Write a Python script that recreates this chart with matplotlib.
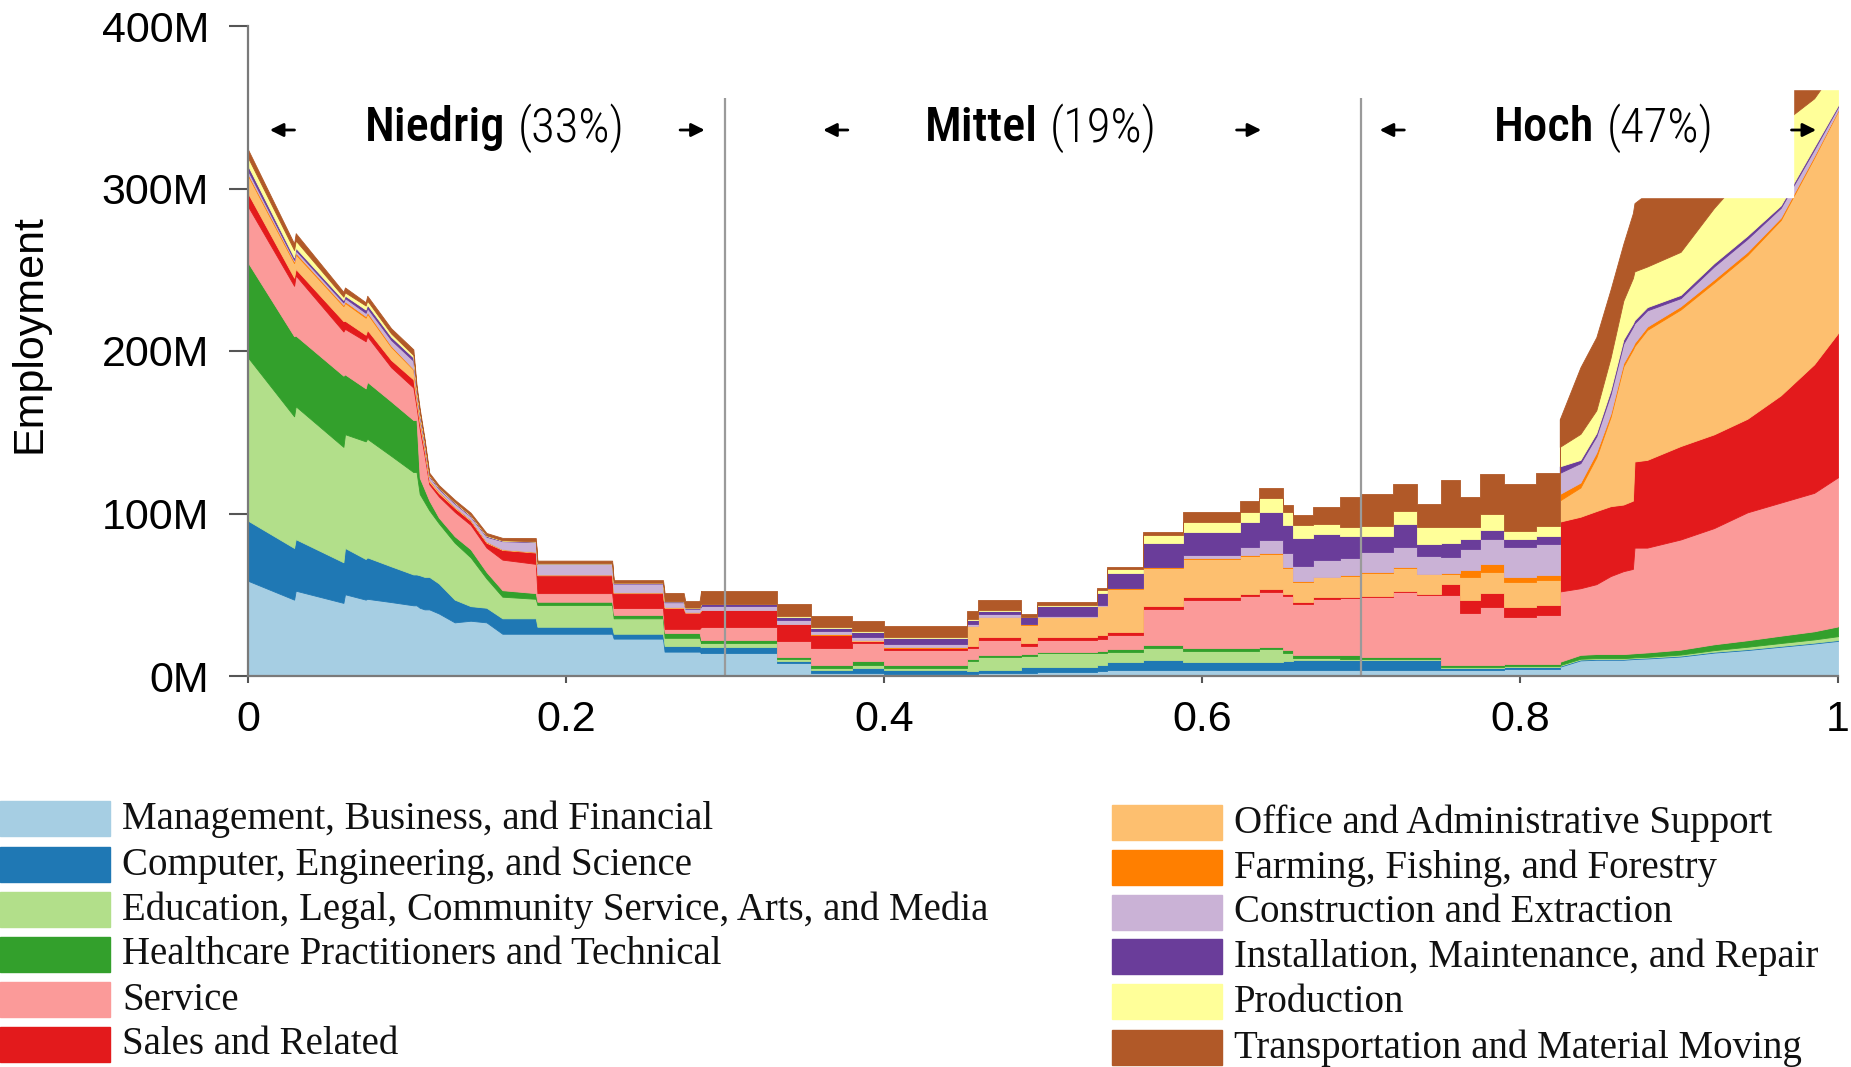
#Stacked employment by probability of computerisation, with low / medium / high bands
#plot.py

import os
import numpy as np
import matplotlib.pyplot as plt
from matplotlib.patches import Rectangle
from matplotlib import font_manager
from matplotlib.font_manager import FontProperties

# probability of computerisation (x axis)
prob = [0.000, 0.029, 0.030, 0.060, 0.061, 0.074, 0.075, 0.090, 0.104, 0.106,
        0.108, 0.111, 0.114, 0.120, 0.130, 0.140, 0.150, 0.160, 0.181, 0.182,
        0.229, 0.230, 0.261, 0.262, 0.274, 0.275, 0.284,
        0.285, 0.333, 0.354, 0.380, 0.400, 0.452, 0.459, 0.486, 0.496, 0.534,
        0.540, 0.563, 0.588, 0.624, 0.636, 0.651, 0.657, 0.670, 0.687, 0.700,
        0.720, 0.735, 0.750, 0.762, 0.775, 0.790, 0.810,
        0.825, 0.838, 0.848, 0.857, 0.865, 0.871, 0.872, 0.880, 0.901, 0.922,
        0.943, 0.964, 0.985, 1.000]

# employment in millions, one list per occupation group (bottom to top of the stack)
mgmt = [58.6, 47.0, 52.5, 45.0, 50.3, 47.0, 47.5, 45.5, 43.5, 43.5,
        42.0, 41.0, 41.0, 38.5, 33.0, 34.0, 33.0, 26.0, 26.0, 26.0,
        26.0, 23.0, 23.0, 15.0, 15.0, 15.0, 15.0,
        14.0, 7.8, 2.0, 2.0, 1.0, 1.3, 1.6, 1.6, 2.7, 3.0,
        3.7, 3.7, 3.7, 3.7, 3.7, 3.7, 3.7, 3.7, 3.7, 3.7,
        3.7, 3.7, 3.7, 3.7, 3.7, 4.5, 4.5,
        5.7, 9.6, 10.0, 10.0, 10.0, 10.4, 10.5, 10.8, 12.0, 14.4,
        16.0, 18.0, 20.0, 21.6]
comp = [37.0, 31.8, 31.7, 25.0, 28.5, 25.0, 25.5, 22.0, 19.0, 19.0,
        20.0, 20.0, 20.0, 18.5, 14.0, 9.0, 9.0, 9.5, 9.5, 4.3,
        4.3, 3.0, 3.0, 3.5, 3.5, 3.5, 3.5,
        3.7, 1.5, 2.0, 3.0, 2.5, 2.0, 2.0, 4.0, 3.0, 4.0,
        5.0, 6.1, 5.1, 5.1, 5.1, 5.5, 6.0, 6.0, 6.0, 6.0,
        6.0, 6.0, 1.5, 1.5, 1.5, 1.0, 1.0,
        0.5, 0.5, 0.5, 0.5, 0.5, 0.5, 0.5, 0.5, 0.5, 0.5,
        0.5, 0.5, 0.5, 0.5]
edu = [100.4, 81.0, 81.8, 71.0, 70.0, 72.4, 73.0, 68.0, 63.0, 63.0,
       50.0, 46.0, 41.0, 37.0, 35.0, 30.0, 18.0, 13.3, 12.0, 13.4,
       13.4, 9.5, 9.5, 5.0, 5.0, 5.0, 5.0,
       2.5, 1.0, 1.0, 1.5, 1.5, 6.0, 8.0, 7.0, 8.2, 7.0,
       6.2, 7.2, 6.8, 6.8, 7.6, 5.0, 1.5, 1.5, 1.0, 0.5,
       0.5, 0.5, 0.5, 0.5, 0.5, 0.5, 0.5,
       0.5, 0.5, 0.5, 0.5, 0.5, 0.5, 0.5, 0.5, 0.7, 1.0,
       1.5, 1.8, 2.0, 2.4]
health = [58.4, 49.3, 43.5, 43.8, 36.8, 32.6, 35.0, 33.5, 32.0, 32.0,
          10.0, 8.0, 6.0, 3.5, 4.0, 5.0, 4.0, 4.0, 3.5, 2.0,
          2.0, 2.1, 2.1, 3.0, 3.0, 3.0, 3.0,
          2.0, 1.6, 2.0, 2.5, 2.0, 1.2, 1.2, 1.0, 1.0, 1.5,
          2.0, 2.0, 1.4, 1.4, 1.6, 1.8, 2.0, 2.0, 2.0, 1.5,
          1.5, 1.5, 1.0, 1.0, 1.0, 1.5, 1.5,
          2.0, 2.4, 2.5, 2.5, 2.5, 2.5, 2.5, 2.7, 3.0, 3.6,
          4.0, 4.5, 5.0, 6.0]
service = [34.6, 31.0, 37.0, 27.2, 28.0, 29.0, 28.0, 21.0, 20.0, 8.0,
           30.0, 21.0, 10.0, 13.0, 15.0, 15.0, 15.0, 18.8, 18.0, 5.3,
           5.3, 4.2, 4.2, 2.5, 2.5, 2.5, 2.5,
           8.0, 9.5, 10.0, 11.5, 9.0, 7.0, 9.6, 5.0, 7.2, 7.5,
           8.2, 22.0, 29.7, 32.0, 33.8, 33.0, 31.0, 34.0, 35.0, 37.0,
           40.0, 38.0, 43.0, 31.8, 35.9, 28.7, 30.0,
           43.3, 41.0, 43.0, 48.0, 51.0, 52.0, 65.0, 64.5, 67.8, 71.5,
           78.7, 81.9, 85.2, 91.8]
sales = [8.0, 5.0, 4.0, 6.4, 5.0, 4.0, 4.0, 4.5, 5.0, 3.0,
         3.0, 2.5, 1.5, 2.0, 2.5, 2.5, 3.0, 6.0, 7.0, 11.0,
         11.0, 9.2, 9.2, 13.0, 13.0, 10.0, 10.0,
         10.3, 10.3, 8.2, 1.0, 1.0, 1.0, 1.6, 2.0, 2.0, 2.0,
         2.0, 2.0, 2.0, 1.5, 2.0, 1.7, 1.5, 1.5, 1.0, 0.5,
         0.5, 0.5, 7.2, 8.2, 8.2, 6.1, 6.1,
         43.0, 44.0, 45.0, 43.0, 41.0, 42.0, 53.0, 54.0, 57.5, 57.7,
         57.6, 66.0, 79.1, 88.7]
office = [11.0, 9.0, 9.0, 9.2, 11.0, 10.5, 10.0, 8.0, 6.0, 3.0,
          3.0, 2.0, 1.0, 1.0, 0.5, 0.5, 0.5, 0.3, 0.3, 0.3,
          0.3, 0.3, 0.3, 0.3, 0.3, 0.3, 0.3,
          0.3, 0.3, 0.3, 0.5, 0.5, 12.0, 12.3, 11.0, 12.3, 18.0,
          26.6, 23.6, 23.6, 23.6, 21.5, 16.0, 12.3, 12.3, 13.0, 14.3,
          14.3, 12.3, 6.1, 14.3, 13.3, 15.4, 15.4,
          13.0, 18.0, 33.0, 55.0, 85.0, 93.0, 71.0, 80.0, 84.0, 93.3,
          100.7, 107.9, 127.2, 136.7]
farm = [1.0, 1.0, 1.0, 0.8, 1.0, 1.0, 1.0, 0.8, 0.5, 0.5,
        0.5, 0.3, 0.3, 0.2, 0.2, 0.2, 0.2, 0.1, 0.1, 0.1,
        0.1, 0.1, 0.1, 0.1, 0.1, 0.1, 0.1,
        0.1, 0.1, 0.1, 0.1, 0.1, 0.2, 0.2, 0.2, 0.2, 0.2,
        0.2, 0.2, 0.2, 0.2, 0.2, 0.2, 0.2, 0.2, 0.2, 0.3,
        0.3, 0.3, 0.3, 4.0, 5.0, 3.0, 3.0,
        4.0, 3.0, 3.0, 2.0, 2.0, 2.0, 2.0, 2.0, 2.0, 2.0,
        2.0, 1.5, 1.0, 0.5]
constr = [2.0, 1.0, 1.5, 1.5, 2.0, 2.0, 2.5, 3.5, 5.0, 3.0,
          2.0, 2.0, 2.0, 1.5, 2.0, 2.0, 3.0, 5.0, 6.0, 6.5,
          6.5, 5.5, 5.5, 3.0, 3.0, 2.0, 2.0,
          2.0, 2.5, 2.0, 2.0, 2.0, 1.5, 1.5, 0.5, 0.5, 0.5,
          0.5, 0.5, 2.0, 5.0, 8.2, 8.5, 9.2, 10.0, 11.0, 12.3,
          12.3, 11.3, 10.2, 13.3, 15.4, 18.5, 19.0,
          13.0, 12.0, 10.0, 12.0, 12.0, 12.0, 12.0, 10.0, 5.0, 8.0,
          8.0, 6.0, 4.0, 2.0]
install = [3.0, 1.5, 1.5, 1.5, 1.5, 2.0, 2.0, 2.0, 2.0, 1.0,
           1.0, 1.0, 0.5, 0.5, 0.5, 0.5, 0.5, 0.3, 0.3, 0.3,
           0.3, 0.3, 0.3, 0.5, 0.5, 0.5, 0.5,
           1.5, 2.0, 2.0, 3.0, 4.0, 2.5, 2.0, 4.0, 6.0, 7.5,
           9.2, 14.3, 14.3, 15.4, 17.4, 17.4, 17.4, 16.4, 13.0, 10.2,
           14.3, 7.2, 8.2, 6.1, 5.1, 5.1, 5.1,
           4.0, 2.0, 2.0, 2.5, 2.5, 2.0, 2.0, 2.0, 2.0, 2.0,
           2.0, 1.5, 1.5, 1.0]
prod = [5.0, 4.5, 4.5, 2.0, 2.0, 2.5, 2.5, 2.0, 1.5, 1.0,
        1.0, 1.0, 0.3, 0.3, 0.3, 0.3, 0.3, 0.2, 0.2, 0.2,
        0.2, 0.2, 0.2, 0.2, 0.2, 0.2, 0.2,
        0.2, 0.3, 0.3, 0.3, 0.3, 0.3, 0.5, 0.3, 0.5, 1.5,
        2.0, 5.1, 6.1, 6.1, 8.2, 8.2, 8.2, 6.1, 6.0, 6.1,
        8.2, 10.2, 10.2, 7.2, 10.2, 5.1, 6.0,
        12.0, 16.0, 14.0, 20.0, 24.0, 28.0, 30.0, 25.0, 26.5, 34.0,
        40.0, 50.0, 30.0, 25.0]
trans = [5.0, 4.0, 4.5, 3.0, 3.0, 2.0, 3.0, 3.2, 3.5, 2.0,
         2.0, 1.5, 1.5, 1.5, 1.5, 1.5, 1.5, 1.5, 2.0, 1.6,
         1.6, 1.6, 1.6, 5.0, 5.0, 4.0, 4.0,
         7.8, 7.5, 7.2, 6.2, 7.0, 5.0, 6.2, 1.5, 2.0, 1.5,
         1.5, 2.0, 6.1, 7.0, 6.1, 4.0, 6.1, 10.0, 18.0, 19.5,
         16.4, 14.3, 28.7, 18.5, 24.6, 28.7, 33.0,
         17.0, 41.0, 45.0, 42.0, 35.0, 40.0, 42.0, 45.0, 45.0, 40.0,
         40.0, 40.0, 20.0, 10.0]

groups = ['Management, Business, and Financial',
          'Computer, Engineering, and Science',
          'Education, Legal, Community Service, Arts, and Media',
          'Healthcare Practitioners and Technical',
          'Service',
          'Sales and Related',
          'Office and Administrative Support',
          'Farming, Fishing, and Forestry',
          'Construction and Extraction',
          'Installation, Maintenance, and Repair',
          'Production',
          'Transportation and Material Moving']
colors = ['#a6cee3', '#1f78b4', '#b2df8a', '#33a02c', '#fb9a99', '#e31a1c',
          '#fdbf6f', '#ff7f00', '#cab2d6', '#6a3d9a', '#ffff99', '#b15928']

# risk bands: label, share
bands = [('Niedrig', '(33%)'), ('Mittel', '(19%)'), ('Hoch', '(47%)')]

plt.rcParams['font.family'] = ['Liberation Sans', 'DejaVu Sans']


def narrow_font(styles, size):
    # look for a narrow sans file; fall back to plain Liberation Sans a bit smaller
    files = [f.fname for f in font_manager.fontManager.ttflist]
    for w in styles:
        for fn in files:
            if os.path.basename(fn).startswith(w):
                return FontProperties(fname=fn, size=size)
    bold = 'Bold' in styles[-1]
    return FontProperties(family='Liberation Sans',
                          weight='bold' if bold else 'normal', size=size * 0.86)


W, H = 1851, 1067
fig = plt.figure(figsize=(W / 100, H / 100), dpi=100)
ax = fig.add_axes([248 / W, 1 - 676 / H, 1590 / W, 650 / H])

x = np.array(prob)
Y = np.array([mgmt, comp, edu, health, service, sales, office, farm,
              constr, install, prod, trans])
cum = np.vstack([np.zeros(len(x)), np.cumsum(Y, axis=0)])

# smooth ends drawn as lines, the stepped middle part as post-steps
parts = [(x <= 0.2855, None), ((x >= 0.2845) & (x <= 0.8255), 'post'), (x >= 0.8245, None)]
for i, c in enumerate(colors):
    for m, st in parts:
        ax.fill_between(x[m], cum[i][m], cum[i + 1][m], step=st,
                        facecolor=c, edgecolor=c, lw=0.6, zorder=1)

ax.vlines([0.3, 0.7], 0, 356, color='#9a9a9a', lw=1.6, zorder=1.5)

# white boxes that hide the top of the stack in the picture
ax.add_patch(Rectangle((0.702, 295), 0.270, 105, color='white', zorder=2))
ax.add_patch(Rectangle((0.9, 361), 0.11, 45, color='white', zorder=2, clip_on=False))

ax.set_xlim(0, 1)
ax.set_ylim(0, 400)
for s in ['top', 'right']:
    ax.spines[s].set_visible(False)
for s in ['left', 'bottom']:
    ax.spines[s].set_color('#7a7a7a')
    ax.spines[s].set_linewidth(1.6)
ax.set_yticks([0, 100, 200, 300, 400])
ax.set_yticklabels(['0M', '100M', '200M', '300M', '400M'])
ax.set_xticks([0, 0.2, 0.4, 0.6, 0.8, 1])
ax.set_xticklabels(['0', '0.2', '0.4', '0.6', '0.8', '1'])
ax.tick_params(axis='y', length=14, width=1.5, color='#555555', pad=14, labelsize=31)
ax.tick_params(axis='x', length=5, width=1.5, color='#555555', pad=12, labelsize=31)

fig.text(0.016, 0.687, 'Employment', rotation=90, fontsize=31, ha='center', va='center')

# band titles and arrows
fp_bold = narrow_font(['RobotoCondensed-Medium', 'LiberationSansNarrow-Bold',
                       'RobotoCondensed-Bold'], 35)
fp_reg = narrow_font(['RobotoCondensed-Light', 'LiberationSansNarrow-Regular',
                      'RobotoCondensed-Regular'], 35)
split = [0.162, 0.4967, 0.847]
for (name, share), sx in zip(bands, split):
    ax.text(sx, 337, name, ha='right', va='center', fontproperties=fp_bold, zorder=4)
    ax.text(sx + 0.0075, 337, share, ha='left', va='center', fontproperties=fp_reg, zorder=4)
arrows = [(0.031, 0.012), (0.270, 0.289), (0.379, 0.360), (0.620, 0.639),
          (0.729, 0.710), (0.969, 0.988)]
for x0, x1 in arrows:
    ax.annotate('', xy=(x1, 336), xytext=(x0, 336),
                arrowprops=dict(arrowstyle='-|>', color='black', lw=2,
                                mutation_scale=20), zorder=4)

# legend, two columns of six
rows_l = [819, 865, 910, 955, 1000, 1045]
rows_r = [823, 868, 913, 957, 1002, 1048]
for k in range(12):
    if k < 6:
        px, tx, yc = 0, 122, rows_l[k]
    else:
        px, tx, yc = 1112, 1234, rows_r[k - 6]
    fig.add_artist(Rectangle((px / W, 1 - (yc + 17) / H), 110 / W, 35 / H,
                             transform=fig.transFigure, color=colors[k]))
    fig.text(tx / W, 1 - yc / H, groups[k], fontsize=28, color='#111111',
             family=['Liberation Serif', 'DejaVu Serif'], ha='left', va='center')

plt.savefig('out.png', dpi=100)
